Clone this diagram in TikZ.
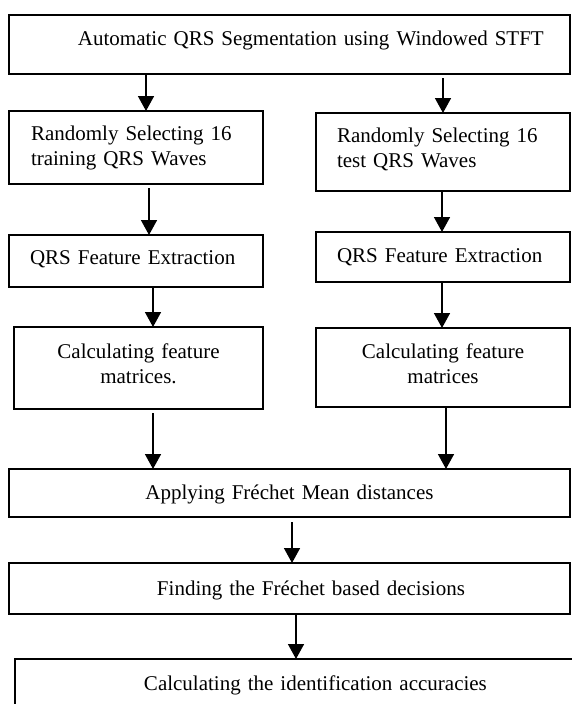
\documentclass[tikz,border=0pt]{standalone}
\usepackage{fontspec}
\setmainfont{Liberation Serif}
\usetikzlibrary{arrows.meta}
\begin{document}
\begin{tikzpicture}[x=1pt,y=-1pt,
  box/.style={draw, line width=1.7pt, fill=white, rectangle, anchor=north west,
    outer sep=0pt, inner ysep=0pt, font=\fontsize{21}{25}\selectfont},
  arr/.style={line width=1.6pt, -{Triangle[width=16pt,length=15pt]}}]
\clip (0,0) rectangle (572,704);
\fill[white] (0,0) rectangle (572,704);

% boxes
\node[box, inner xsep=0pt, text width=561pt, minimum width=561pt, minimum height=59pt,
  text height=30pt, text depth=29pt, align=left] (B0) at (9,15)
  {\hspace*{69pt}Automatic QRS Segmentation using Windowed STFT};

\node[box, inner xsep=22pt, text width=210pt, minimum width=254pt, minimum height=73pt,
  text height=29pt, text depth=44pt, align=left] (L2) at (9,111)
  {Randomly Selecting 16\\training QRS Waves};
\node[box, inner xsep=21pt, text width=212pt, minimum width=254pt, minimum height=78pt,
  text height=29pt, text depth=49pt, align=left] (R2) at (316,113)
  {Randomly Selecting 16\\test QRS Waves};

\node[box, inner xsep=21pt, text width=212pt, minimum width=254pt, minimum height=52pt,
  text height=29pt, text depth=23pt, align=left] (L3) at (9,235)
  {QRS Feature Extraction};
\node[box, inner xsep=21pt, text width=212pt, minimum width=254pt, minimum height=50pt,
  text height=30pt, text depth=20pt, align=left] (R3) at (316,232)
  {QRS Feature Extraction};

\node[box, inner xsep=10pt, text width=229pt, minimum width=249pt, minimum height=82pt,
  text height=31pt, text depth=51pt, align=center] (L4) at (14,327)
  {Calculating feature\\matrices.};
\node[box, inner xsep=10pt, text width=234pt, minimum width=254pt, minimum height=79pt,
  text height=30pt, text depth=49pt, align=center] (R4) at (316,328)
  {Calculating feature\\matrices};

\node[box, inner xsep=10pt, text width=541pt, minimum width=561pt, minimum height=48pt,
  text height=30pt, text depth=18pt, align=center] (B1) at (9,469)
  {Applying Fréchet Mean distances};
\node[box, inner xsep=0pt, text width=561pt, minimum width=561pt, minimum height=51pt,
  text height=32pt, text depth=19pt, align=left] (B2) at (9,563)
  {\hspace*{148pt}Finding the Fréchet based decisions};
\node[box, inner xsep=0pt, text width=600pt, minimum width=600pt, minimum height=80pt,
  text height=31pt, text depth=49pt, align=left] (B3) at (15,659)
  {\hspace*{129pt}Calculating the identification accuracies};

% arrow columns
\coordinate (xa1) at (146,0);
\coordinate (xa2) at (443,0);
\coordinate (xa3) at (149,0);
\coordinate (xa4) at (442,0);
\coordinate (xa5) at (153,0);
\coordinate (xa6) at (442,0);
\coordinate (xa7) at (153,0);
\coordinate (xa8) at (446,0);
\coordinate (xa9) at (292,0);
\coordinate (xa10) at (296,0);

\draw[arr] (B0.south -| xa1) -- (L2.north -| xa1);
\draw[arr, shorten <=4pt] (B0.south -| xa2) -- (R2.north -| xa2);
\draw[arr, shorten <=4pt] (L2.south -| xa3) -- (L3.north -| xa3);
\draw[arr] (R2.south -| xa4) -- (R3.north -| xa4);
\draw[arr] (L3.south -| xa5) -- (L4.north -| xa5);
\draw[arr] (R3.south -| xa6) -- (R4.north -| xa6);
\draw[arr, shorten <=4pt] (L4.south -| xa7) -- (B1.north -| xa7);
\draw[arr] (R4.south -| xa8) -- (B1.north -| xa8);
\draw[arr, shorten <=5pt] (B1.south -| xa9) -- (B2.north -| xa9);
\draw[arr] (B2.south -| xa10) -- (B3.north -| xa10);
\end{tikzpicture}
\end{document}
